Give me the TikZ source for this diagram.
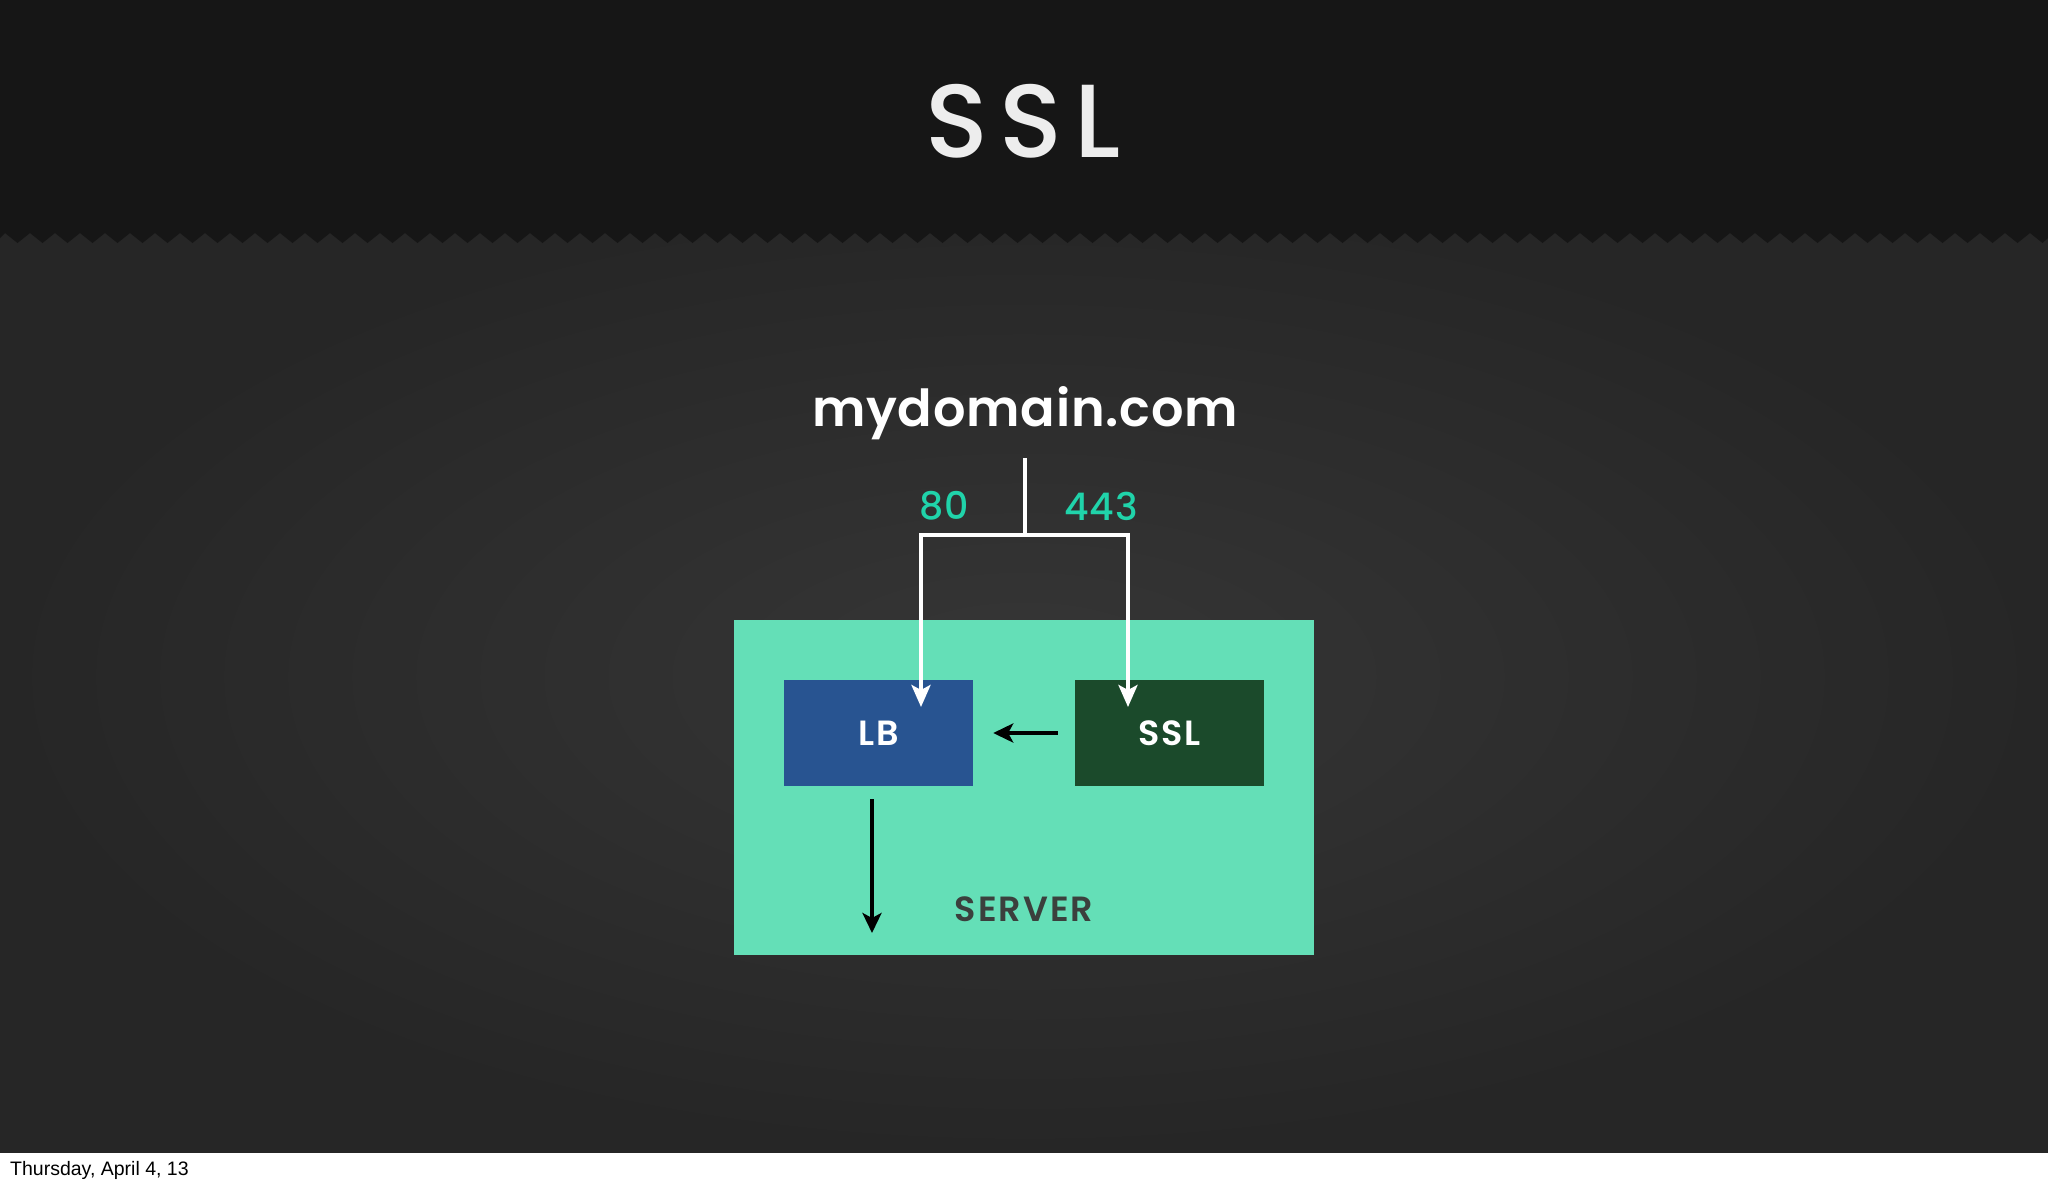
\documentclass[tikz,border=0pt]{standalone}
\usepackage{fontspec}
\setmainfont{Poppins}
\newfontfamily\popmed{Poppins Medium}
\newfontfamily\popsemi{Poppins SemiBold}
\newfontfamily\datefont{Liberation Sans}
\usetikzlibrary{arrows.meta}
\definecolor{hdr}{HTML}{161616}
\definecolor{bgouter}{HTML}{262626}
\definecolor{bginner}{HTML}{363636}
\definecolor{mint}{HTML}{64DFB7}
\definecolor{lbblue}{HTML}{285491}
\definecolor{sslgreen}{HTML}{1B4A2B}
\definecolor{portteal}{HTML}{20D3AA}
\definecolor{srvtext}{HTML}{3B403D}
\definecolor{titletext}{HTML}{EDEDED}
\tikzset{
  titletxt/.style={text=titletext, font=\popmed\addfontfeature{LetterSpace=11}\fontsize{104}{110}\selectfont, inner sep=0pt},
  domaintxt/.style={text=white, font=\popsemi\addfontfeature{LetterSpace=1.5}\fontsize{51}{60}\selectfont, inner sep=0pt},
  porttxt/.style={text=portteal, font=\popmed\addfontfeature{LetterSpace=3}\fontsize{38}{42}\selectfont, inner sep=0pt},
  serverbox/.style={fill=mint, minimum width=580pt, minimum height=335pt, inner sep=0pt},
  compbox/.style={minimum width=189pt, minimum height=106pt, inner sep=0pt, text=white,
     font=\popsemi\addfontfeature{LetterSpace=6}\fontsize{35}{38}\selectfont},
  srvlabel/.style={text=srvtext, font=\popsemi\addfontfeature{LetterSpace=6}\fontsize{35}{38}\selectfont, inner sep=0pt},
  wline/.style={draw=white, line width=4pt},
  warrow/.style={wline, -{Stealth[length=22pt,width=19pt,inset=5pt]}},
  barrow/.style={draw=black, line width=4pt, -{Stealth[length=20pt,width=19pt,inset=5pt]}},
}
\begin{document}
\begin{tikzpicture}[x=1pt,y=-1pt]
\useasboundingbox (0,0) rectangle (2048,1184);
% background
\shade[inner color=bginner, outer color=bgouter] (0,200) rectangle (2048,1153);
\fill[white] (0,1153) rectangle (2048,1184);
\fill[hdr] (0,0) -- (2048,0) -- (2048,238)
  \foreach \i in {81,80,...,0} { -- ({\i*25+17.5},243) -- ({\i*25+5},233) } -- (0,238) -- cycle;
% title
\node[titletxt, anchor=base] (title) at (1023,157) {SSL};
% domain
\node[domaintxt, anchor=base] (dom) at (1025,426) {mydomain.com};
% server
\node[serverbox] (server) at (1024,787.5) {};
\node[srvlabel] (srv) at (1024,909) {SERVER};
\node[compbox, fill=lbblue] (lb) at (878.5,733) {\raisebox{-2pt}{LB}};
\node[compbox, fill=sslgreen] (ssl) at (1169.5,733) {\raisebox{-2pt}{SSL}};
% ports
\node[porttxt] (p80) at (944,506) {80};
\node[porttxt] (p443) at (1101,506) {443};
% connectors
\coordinate (top) at (1025,458);
\coordinate (split) at (1025,535);
\coordinate (lbin) at (921,707);
\coordinate (sslin) at (1128,707);
\coordinate (lbout) at (872,933);
\draw[wline] (top) -- (split);
\draw[warrow] ([xshift=2pt]split) -| (lbin);
\draw[warrow] ([xshift=-2pt]split) -| (sslin);
\draw[barrow] ([xshift=-17pt]ssl.west) -- ([xshift=20pt]lb.east);
\draw[barrow] (lb.south -| lbout) ++(0,-13pt) -- (lbout);
% date
\node[anchor=base west, inner sep=0pt, font=\datefont\fontsize{19.5}{22}\selectfont] (date) at (10,1175) {Thursday, April 4, 13};
\end{tikzpicture}
\end{document}
